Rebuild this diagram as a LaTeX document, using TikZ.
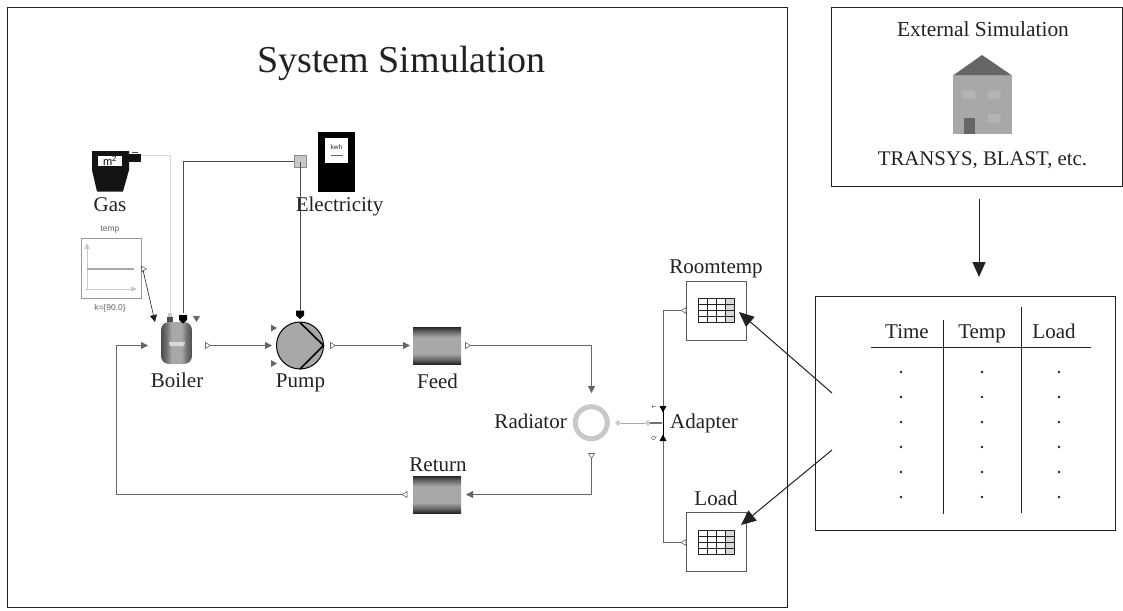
\documentclass[tikz,border=0pt]{standalone}
\usepackage{fontspec}
\setmainfont{Liberation Serif}
\newfontfamily\sansf{Liberation Sans}
\usetikzlibrary{arrows.meta,shapes.geometric}
\definecolor{ink}{HTML}{222222}
\definecolor{wirec}{HTML}{666666}
\definecolor{midg}{HTML}{A8A8A8}
\definecolor{lightg}{HTML}{C8C8C8}
\newcommand{\fs}[1]{\fontsize{#1}{#1}\selectfont}
\pgfdeclareverticalshading{tubeshade}{100bp}{
  color(0bp)=(black!85); color(25bp)=(black!85); color(31bp)=(black!60); color(39bp)=(midg); color(61bp)=(midg); color(69bp)=(black!60); color(75bp)=(black!85); color(100bp)=(black!85)}
\pgfdeclarehorizontalshading{boilershade}{100bp}{
  color(0bp)=(black!70); color(25bp)=(black!70); color(34bp)=(black!55); color(42bp)=(midg); color(58bp)=(midg); color(66bp)=(black!55); color(75bp)=(black!70); color(100bp)=(black!70)}
\tikzset{
  frame/.style={draw=ink,line width=0.9pt,fill=white},
  lbl/.style={text=ink,inner sep=0pt,anchor=base,font=\fs{21}},
  tinylbl/.style={text=black!60,inner sep=0pt,font=\sansf\fs{8.5}},
  wire/.style={draw=wirec,line width=0.8pt},
  filledtip/.style={-{Triangle[length=7pt,width=7pt]}},
  bigarrow/.style={draw=ink,line width=1pt,-{Triangle[length=15pt,width=13pt]}},
  tube/.style={rectangle,inner sep=0pt,minimum width=48pt,minimum height=37pt,shading=tubeshade},
  tablebox/.style={rectangle,draw=black!65,line width=1pt,fill=white,minimum width=60pt,minimum height=59pt,inner sep=0pt},
  dot/.style={circle,fill=ink,inner sep=0pt,minimum size=2.8pt},
  outR/.pic={\draw[draw=wirec,fill=white,line width=.6pt] (-2.5,-3) -- (2.5,0) -- (-2.5,3) -- cycle;},
  outL/.pic={\draw[draw=wirec,fill=white,line width=.6pt] (2.5,-3) -- (-2.5,0) -- (2.5,3) -- cycle;},
  outD/.pic={\draw[draw=wirec,fill=white,line width=.6pt] (-3,-2.5) -- (0,2.5) -- (3,-2.5) -- cycle;},
  tablegrid/.pic={
    \fill[lightg!70] (27,0) rectangle (36,24);
    \foreach \gx in {9,18,27}{\draw[ink,line width=.6pt] (\gx,0) -- (\gx,24);}
    \foreach \gy in {6,12,18}{\draw[ink,line width=.6pt] (0,\gy) -- (36,\gy);}
    \draw[ink,line width=.6pt] (0,0) rectangle (36,24);
  },
  blackport/.pic={\fill[black] (-4,-4) -- (4,-4) -- (4,1) -- (0,4.5) -- (-4,1) -- cycle;},
  grayin/.pic={\fill[black!60] (-3,-3.5) -- (3,0) -- (-3,3.5) -- cycle;},
  grayindown/.pic={\fill[black!60] (-3.5,-3) -- (3.5,-3) -- (0,3) -- cycle;},
}
\begin{document}
\begin{tikzpicture}[x=1pt,y=-1pt]
\useasboundingbox (0,0) rectangle (1123,610);
\fill[white] (0,0) rectangle (1123,610);
% frames
\node[frame,rectangle,minimum width=780pt,minimum height=600pt,inner sep=0pt] (sysframe) at (397,307) {};
\node[lbl,font=\fs{38}] (title) at (401.5,72) {System Simulation};
\node[frame,rectangle,minimum width=291pt,minimum height=179pt,inner sep=0pt] (extframe) at (976.5,96.5) {};
\node[lbl,font=\fs{21.4}] (exttitle) at (983,37) {External Simulation};
\node[lbl,font=\fs{20.8}] (extsub) at (982.5,165) {TRANSYS, BLAST, etc.};
% house
\fill[black!60] (953,75.5) -- (982,55) -- (1012,75.5) -- cycle;
\fill[midg] (953,75.5) rectangle (1012,134);
\fill[lightg!90!black] (962.5,90.5) rectangle (975,99) (988,90.5) rectangle (1000.5,99) (988,114) rectangle (1000.5,122.5);
\fill[black!60] (963.5,118) rectangle (974.5,134);
% table
\node[frame,rectangle,minimum width=300pt,minimum height=234pt,inner sep=0pt] (datatable) at (965,413) {};
\node[lbl] (thTime) at (907,338) {Time};
\node[lbl] (thTemp) at (982,338) {Temp};
\node[lbl] (thLoad) at (1054,338) {Load};
\draw[ink,line width=.8pt] (871,347) -- (1091,347) (943,320) -- (943,514) (1021,307) -- (1021,513);
\foreach \x in {901,982,1059}\foreach \y in {372,397,422,447,472,497}\node[dot] at (\x,\y) {};
\coordinate (extOut) at (979,199);
\coordinate (tabIn) at (979,277);
\draw[bigarrow] (extOut) -- (tabIn);
% gas meter
\fill[black!92] (92,151) -- (129,151) -- (129,170) -- (123,191.5) -- (97,191.5) -- (92,170) -- cycle;
\fill[black!92] (129,154) rectangle (141,162);
\fill[black!70] (132,151.5) rectangle (138,153);
\fill[white] (98,156) rectangle (122,166);
\node[inner sep=0pt,font=\sansf\fs{11},text=black] (gasunit) at (110,160.5) {m\textsuperscript{2}};
\node[lbl] (gasl) at (110,211) {Gas};
\coordinate (gasOut) at (141,155);
% electricity
\fill[black] (318,132) rectangle (354.5,191.5);
\fill[white] (325,137.5) rectangle (348,163);
\node[inner sep=0pt,font=\sansf\fs{6.5},text=ink] (kwh) at (336.5,147) {kwh};
\draw[black!60,line width=.4pt] (331,155) -- (343,155);
\node[rectangle,draw=black!45,fill=lightg,line width=.8pt,minimum size=12pt,inner sep=0pt] (fuse) at (300.5,161.5) {};
\node[lbl] (eleL) at (339.5,211) {Electricity};
% temp source
\node[rectangle,draw=black!40,line width=1pt,fill=white,minimum size=60pt,inner sep=0pt] (tempbox) at (111,268) {};
\draw[lightg,line width=.7pt,-{Triangle[length=6pt,width=5pt]}] (87,290) -- (87,243);
\draw[lightg,line width=.7pt,-{Triangle[length=6pt,width=5pt]}] (85,289) -- (137,289);
\draw[midg,line width=1.2pt] (87,269) -- (134,269);
\node[tinylbl] (templ) at (110,230) {temp};
\node[tinylbl] (kl) at (110,308) {k=\{90.0\}};
\pic at (144,269) {outR};
\coordinate (tempOut) at (143,270);
% boiler
\node[rectangle,rounded corners=8pt,inner sep=0pt,minimum width=31pt,minimum height=42pt,shading=boilershade] (boiler) at (176.5,343) {};
\fill[white!85!black] (170,346) -- (184,346) -- (185,342) -- (169,342) -- cycle;
\coordinate (bIn) at (148,345.5);
\coordinate (bT) at (155,322);
\coordinate (bGas) at (170,314);
\coordinate (bEl) at (183,313);
\fill[black!70] (167,317) rectangle (173,322);
\fill[lightg] (168,313) rectangle (172,317);
\pic at (183,319) {blackport};
\pic at (196.5,319) {grayindown};
\pic at (208,345.5) {outR};
\coordinate (bOut) at (210,345.5);
\node[lbl] (boilerl) at (177,387) {Boiler};
% pump
\node[circle,draw=black,fill=midg,line width=1pt,minimum size=47pt,inner sep=0pt] (pump) at (300,345.5) {};
\draw[black,line width=1.6pt] (300,322.5) -- (323.5,345.5) -- (300,369);
\pic at (300,314.5) {blackport};
\pic at (274,328) {grayin};
\pic at (274,363.5) {grayin};
\pic at (333,345.5) {outR};
\coordinate (pIn) at (272,345.5);
\coordinate (pOut) at (335,345.5);
\coordinate (pEl) at (300.5,311);
\node[lbl] (pumpl) at (300.5,387) {Pump};
% feed / return
\node[tube] (feed) at (437,345.5) {};
\node[lbl] (feedl) at (437.5,388) {Feed};
\coordinate (fIn) at (410,345.5);
\pic at (468,345.5) {outR};
\coordinate (fOut) at (470,345.5);
\node[tube] (return) at (437,494.5) {};
\node[lbl] (returnl) at (438,471) {Return};
\coordinate (rIn) at (466,494.5);
\pic at (404.5,494.5) {outL};
\coordinate (rOut) at (402,494.5);
% radiator
\node[circle,draw=lightg,line width=5pt,minimum size=32pt,inner sep=0pt] (radiator) at (591.3,422.7) {};
\node[lbl,anchor=base east] (radl) at (567,428) {Radiator};
\coordinate (radIn) at (591.5,393);
\pic at (591.5,456) {outD};
\coordinate (radOut) at (591.5,458);
% adapter
\node[diamond,fill=lightg,inner sep=0pt,minimum size=6pt] (dA) at (618,423) {};
\node[diamond,fill=lightg,inner sep=0pt,minimum size=6pt] (dB) at (648,423) {};
\draw[midg,line width=.8pt] (dA) -- (dB);
\draw[black!55,line width=2.6pt] (650,423) -- (662,423);
\coordinate (adT) at (663,406);
\coordinate (adQ) at (663,441);
\coordinate (adM) at (663,423);
\draw[black,line width=.8pt] (adT) -- (adQ);
\fill[black] (659.5,406) -- (666.5,406) -- (663,412.5) -- cycle;
\fill[black] (659.5,441) -- (666.5,441) -- (663,434.5) -- cycle;
\node[inner sep=0pt,rotate=90,font=\sansf\fs{5.5},text=ink] (tT) at (654,407) {T};
\node[inner sep=0pt,rotate=90,font=\sansf\fs{5.5},text=ink] (tQ) at (654,438) {Q};
\node[lbl,anchor=base west] (adl) at (670,428) {Adapter};
% tables
\node[tablebox] (room) at (716,310.5) {};
\pic at (698,298) {tablegrid};
\node[lbl] (rooml) at (716,273) {Roomtemp};
\pic at (683.5,310.5) {outL};
\coordinate (roomOut) at (681,310.5);
\node[tablebox] (load) at (716,542) {};
\pic at (698,530) {tablegrid};
\node[lbl] (loadl) at (716,505.5) {Load};
\pic at (683.5,542.5) {outL};
\coordinate (loadOut) at (681,542.5);
% connectors
\draw[lightg!70,line width=.8pt] (gasOut) -| (bGas);
\draw[black!70,line width=.9pt] (fuse.west) -| (bEl);
\draw[black!70,line width=.9pt] (fuse.center) -- (pEl);
\draw[ink,line width=.6pt,filledtip] (tempOut) -- (bT);
\draw[wire,filledtip] (bOut) -- (pIn);
\draw[wire,filledtip] (pOut) -- (fIn);
\draw[wire,filledtip] (fOut) -| (radIn);
\draw[wire,filledtip] (radOut) |- (rIn);
\draw[wire,filledtip] (rOut) -| (116,345.5) -- (bIn);
\draw[wire] (adT) |- (roomOut);
\draw[wire] (adQ) |- (loadOut);
\coordinate (a1s) at (832,393);
\coordinate (a1e) at (739,312);
\coordinate (a2s) at (832,450);
\coordinate (a2e) at (741,525);
\draw[bigarrow] (a1s) -- (a1e);
\draw[bigarrow] (a2s) -- (a2e);
\end{tikzpicture}
\end{document}
